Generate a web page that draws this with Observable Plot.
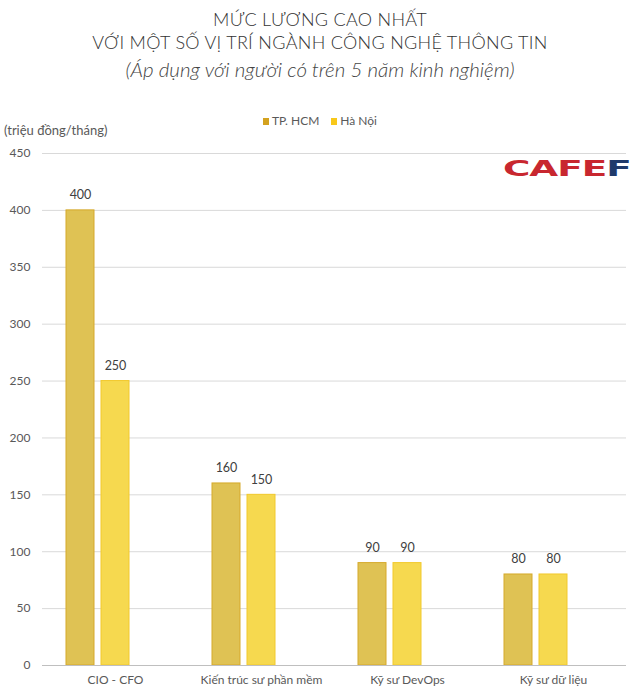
<!DOCTYPE html>
<html>
<head>
<meta charset="utf-8">
<script src="https://cdn.jsdelivr.net/npm/d3@7"></script>
<script src="https://cdn.jsdelivr.net/npm/@observablehq/plot@0.6"></script>
<style>
  html, body { margin: 0; padding: 0; background: #fff; }
  #wrap { position: relative; width: 640px; height: 696px; overflow: hidden; font-family: Lato, "Open Sans", sans-serif; color: #404040; }
  .title { position: absolute; left: 0; width: 640px; text-align: center; font-size: 18px; font-weight: 300; color: #333; letter-spacing: 0.3px; }
  .sub { position: absolute; left: 0; width: 640px; text-align: center; font-size: 20.5px; font-weight: 300; font-style: italic; color: #444; }
  #legend { position: absolute; top: 113px; left: 0; width: 640px; text-align: center; font-size: 12px; color: #595959; }
  #legend span.sw { display: inline-block; width: 6px; height: 7px; margin-right: 3px; vertical-align: 0px; }
  #unit { position: absolute; top: 122px; left: 4px; font-size: 13px; color: #595959; }
  #chart { position: absolute; top: 140px; left: 0; }
  #logo { position: absolute; left: 503px; top: 157px; font-family: "DejaVu Sans", sans-serif; font-weight: bold; font-size: 21px; transform: scaleX(1.78); transform-origin: left top; letter-spacing: -0.6px; }
</style>
</head>
<body>
<div id="wrap">
  <div class="title" style="top:8px">MỨC LƯƠNG CAO NHẤT</div>
  <div class="title" style="top:31px">VỚI MỘT SỐ VỊ TRÍ NGÀNH CÔNG NGHỆ THÔNG TIN</div>
  <div class="sub" style="top:57px">(Áp dụng với người có trên 5 năm kinh nghiệm)</div>
  <div id="legend"></div>
  <div id="unit">(triệu đồng/tháng)</div>
  <div id="chart"></div>
  <div id="logo"><span style="color:#c8272f">CAFE</span><span style="color:#1f3a6b">F</span></div>
</div>
<script>
const categories = ["CIO - CFO", "Kiến trúc sư phần mềm", "Kỹ sư DevOps", "Kỹ sư dữ liệu"];
const seriesNames = ["TP. HCM", "Hà Nội"];
const hcmValues = [400, 160, 90, 80];
const hanoiValues = [250, 150, 90, 80];
const yTicks = [0, 50, 100, 150, 200, 250, 300, 350, 400, 450];
const seriesFill = ["#dfc254", "#f6d94f"];
const seriesStroke = ["#d6a92b", "#f2c92c"];
const legendColors = ["#d4a21f", "#f8c81a"];

const data = [];
categories.forEach((c, i) => {
  data.push({category: c, series: seriesNames[0], value: hcmValues[i]});
  data.push({category: c, series: seriesNames[1], value: hanoiValues[i]});
});

// legend
const legend = document.getElementById("legend");
seriesNames.forEach((s, i) => {
  const item = document.createElement("span");
  item.style.marginRight = i === 0 ? "12px" : "0";
  item.innerHTML = `<span class="sw" style="background:${legendColors[i]}"></span>${s}`;
  legend.appendChild(item);
});

const chart = Plot.plot({
  width: 640,
  height: 556,
  marginTop: 13,
  marginBottom: 31,
  marginLeft: 40,
  marginRight: 13,
  style: {fontFamily: "Lato, sans-serif", fontSize: "12px", color: "#595959", background: "transparent"},
  fx: {domain: categories, paddingInner: 0, paddingOuter: 0, label: null},
  x: {domain: [...seriesNames, "_"], paddingInner: 0.2, paddingOuter: 0.64, axis: null},
  y: {domain: [0, 450], ticks: yTicks, label: null},
  color: {domain: seriesNames, range: seriesFill},
  marks: [
    Plot.gridY(yTicks, {stroke: "#d9d9d9", strokeOpacity: 1}),
    Plot.axisY(yTicks, {tickSize: 0, tickPadding: 12, label: null, fontSize: 12}),
    Plot.axisFx({anchor: "bottom", tickSize: 0, tickPadding: 10, label: null, fontSize: 12}),
    Plot.barY(data, {fx: "category", x: "series", y: "value", fill: "series",
      stroke: d => seriesStroke[seriesNames.indexOf(d.series)], strokeWidth: 1}),
    Plot.ruleY([0], {stroke: "#bfbfbf", strokeWidth: 1.2}),
    Plot.text(data, {fx: "category", x: "series", y: "value", text: d => String(d.value),
      dy: -15, fill: "#404040", fontSize: 12.5})
  ]
});
document.getElementById("chart").appendChild(chart);
</script>
</body>
</html>
